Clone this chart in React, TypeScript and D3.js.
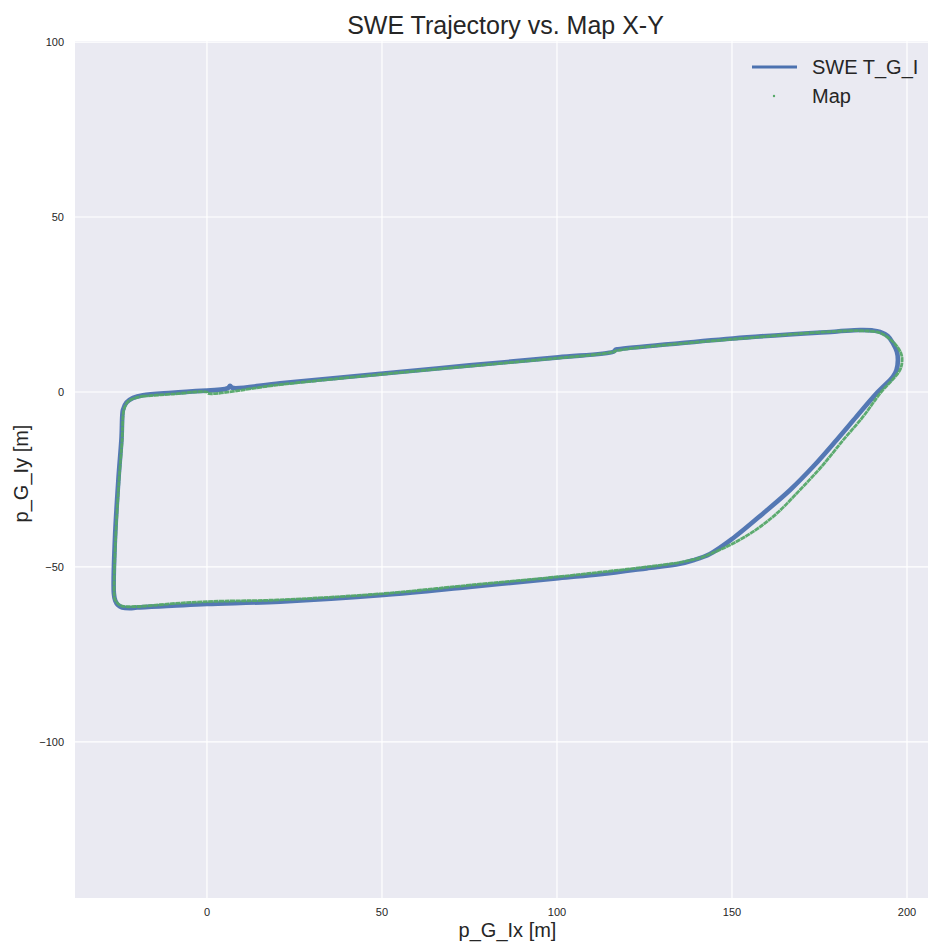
import { useEffect } from 'react'
import * as d3 from 'd3'

// SWE T_G_I trajectory (metres)
const sweX = [0, 6, 6.6, 7.2, 20.9, 50.4, 75, 100.4, 116.1, 116.8, 117.4, 150.3, 180, 186.6, 190, 192.3, 194.5, 196, 197.1, 197.4, 197, 196, 191.3, 185.6, 179.9, 173.2, 166.6, 158.9, 150.3, 143.7, 138.9, 135.1, 125.6, 112.3, 100.4, 75, 50.4, 20.9, 0, -10, -20, -22, -24.2, -25.4, -26.2, -26.6, -26.3, -25.3, -24.4, -24.2, -24, -23, -21.1, -18.3, -10, 0]
const sweY = [0.4, 1.1, 1.8, 1.2, 2.5, 5.3, 7.6, 9.9, 11.5, 12.1, 12.2, 15.3, 17.3, 17.7, 17.6, 17.2, 16.0, 13.9, 11.5, 9.1, 6.3, 4.4, -0.4, -7.0, -13.7, -21.3, -28, -34.7, -41.8, -46.3, -48.1, -49.1, -50.4, -52.1, -53.2, -55.7, -58, -59.9, -60.6, -61.1, -61.6, -61.8, -61.6, -60.9, -59.6, -57.5, -42.3, -25, -13, -7, -5.1, -3, -1.7, -0.9, -0.2, 0.4]

// Map points
const mapX = [-18.3, -10, 0, 0.3, 20.9, 50.4, 100.4, 115.5, 117.4, 150.3, 186.6, 192.5, 196.5, 198.3, 198.6, 198, 192.3, 187.5, 181.8, 175.6, 169.4, 162.8, 157.1, 150.3, 144, 140.9, 135.1, 125.6, 112.3, 100.4, 75, 50.4, 20.9, 0, -10, -20, -24.2, -25.4, -26.3, -26.5, -26.1, -25.1, -24.2, -24.0, -23.7, -22.7, -20.8, -18.3]
const mapY = [-1.2, -0.6, 0.0, -0.4, 2.1, 5.1, 9.7, 11.3, 11.9, 15.1, 17.5, 16.8, 13.8, 11, 9.1, 6.3, -0.4, -7, -13.7, -21.3, -28, -34.7, -39.2, -43.3, -46.2, -47.4, -48.7, -50.0, -51.5, -52.8, -55.2, -57.6, -59.4, -59.9, -60.5, -61.3, -61.2, -60.5, -59.2, -57.3, -42.3, -25, -13, -7, -5, -2.9, -1.8, -1.2]

const xTicks = [0, 50, 100, 150, 200]
const yTicks = [100, 50, 0, -50, -100]

const xDomain: [number, number] = [-37.7, 206]
const yDomain: [number, number] = [-144.6, 100.3]

const W = 929
const H = 942
const plot = { left: 75, right: 928, top: 41, bottom: 898 }
const FONT = '"Liberation Sans", Arial, sans-serif'
const BLUE = '#4C72B0'
const GREEN = '#55A868'
const INK = '#262626'

export default function App() {
  useEffect(() => {
    document.body.style.margin = '0'
  }, [])

  const x = d3.scaleLinear().domain(xDomain).range([plot.left, plot.right])
  const y = d3.scaleLinear().domain(yDomain).range([plot.bottom, plot.top])

  const swe = sweX.map((v, i) => [v, sweY[i]] as [number, number])
  const map = mapX.map((v, i) => [v, mapY[i]] as [number, number])
  const line = d3.line<[number, number]>()
    .x(d => x(d[0]))
    .y(d => y(d[1]))
    .curve(d3.curveCatmullRom.alpha(0.5))

  const fmt = (v: number) => (v < 0 ? '\u2212' + Math.abs(v) : String(v))
  const cx = (plot.left + plot.right) / 2
  const cy = (plot.top + plot.bottom) / 2

  return (
    <svg width={W} height={H} style={{ display: 'block', background: '#fff' }} fontFamily={FONT}>
      <rect x={plot.left} y={plot.top} width={plot.right - plot.left} height={plot.bottom - plot.top} fill="#EAEAF2" />
      <clipPath id="clip">
        <rect x={plot.left} y={plot.top} width={plot.right - plot.left} height={plot.bottom - plot.top} />
      </clipPath>

      {/* grid */}
      {xTicks.map(t => (
        <line key={'gx' + t} x1={x(t)} x2={x(t)} y1={plot.top} y2={plot.bottom} stroke="#fff" strokeWidth={1.2} />
      ))}
      {yTicks.map(t => (
        <line key={'gy' + t} x1={plot.left} x2={plot.right} y1={y(t)} y2={y(t)} stroke="#fff" strokeWidth={1.2} />
      ))}

      <g clipPath="url(#clip)">
        <path d={line(swe) ?? ''} fill="none" stroke={BLUE} strokeWidth={4.6} strokeLinejoin="round" strokeOpacity={0.95} />
        <path d={line(map) ?? ''} fill="none" stroke={GREEN} strokeWidth={2.8} strokeLinejoin="round" strokeDasharray="5 0.5" strokeOpacity={0.95} />
      </g>

      {/* tick labels */}
      {xTicks.map(t => (
        <text key={'tx' + t} x={x(t)} y={plot.bottom + 18} textAnchor="middle" fontSize={11} fill={INK}>{fmt(t)}</text>
      ))}
      {yTicks.map(t => (
        <text key={'ty' + t} x={plot.left - 11} y={y(t) + 4} textAnchor="end" fontSize={11} fill={INK}>{fmt(t)}</text>
      ))}

      {/* title and axis labels */}
      <text x={cx + 4} y={34} textAnchor="middle" fontSize={25} fill={INK}>SWE Trajectory vs. Map X-Y</text>
      <text x={cx + 6} y={937} textAnchor="middle" fontSize={20} fill={INK}>p_G_Ix [m]</text>
      <text transform={`translate(28,${cy + 4}) rotate(-90)`} textAnchor="middle" fontSize={20} fill={INK}>p_G_Iy [m]</text>

      {/* legend */}
      <line x1={752} x2={797} y1={67} y2={67} stroke={BLUE} strokeWidth={3} />
      <text x={812} y={74} fontSize={20} fill={INK}>SWE T_G_I</text>
      <circle cx={774} cy={96} r={1.2} fill={GREEN} />
      <text x={812} y={103} fontSize={20} fill={INK}>Map</text>
    </svg>
  )
}
